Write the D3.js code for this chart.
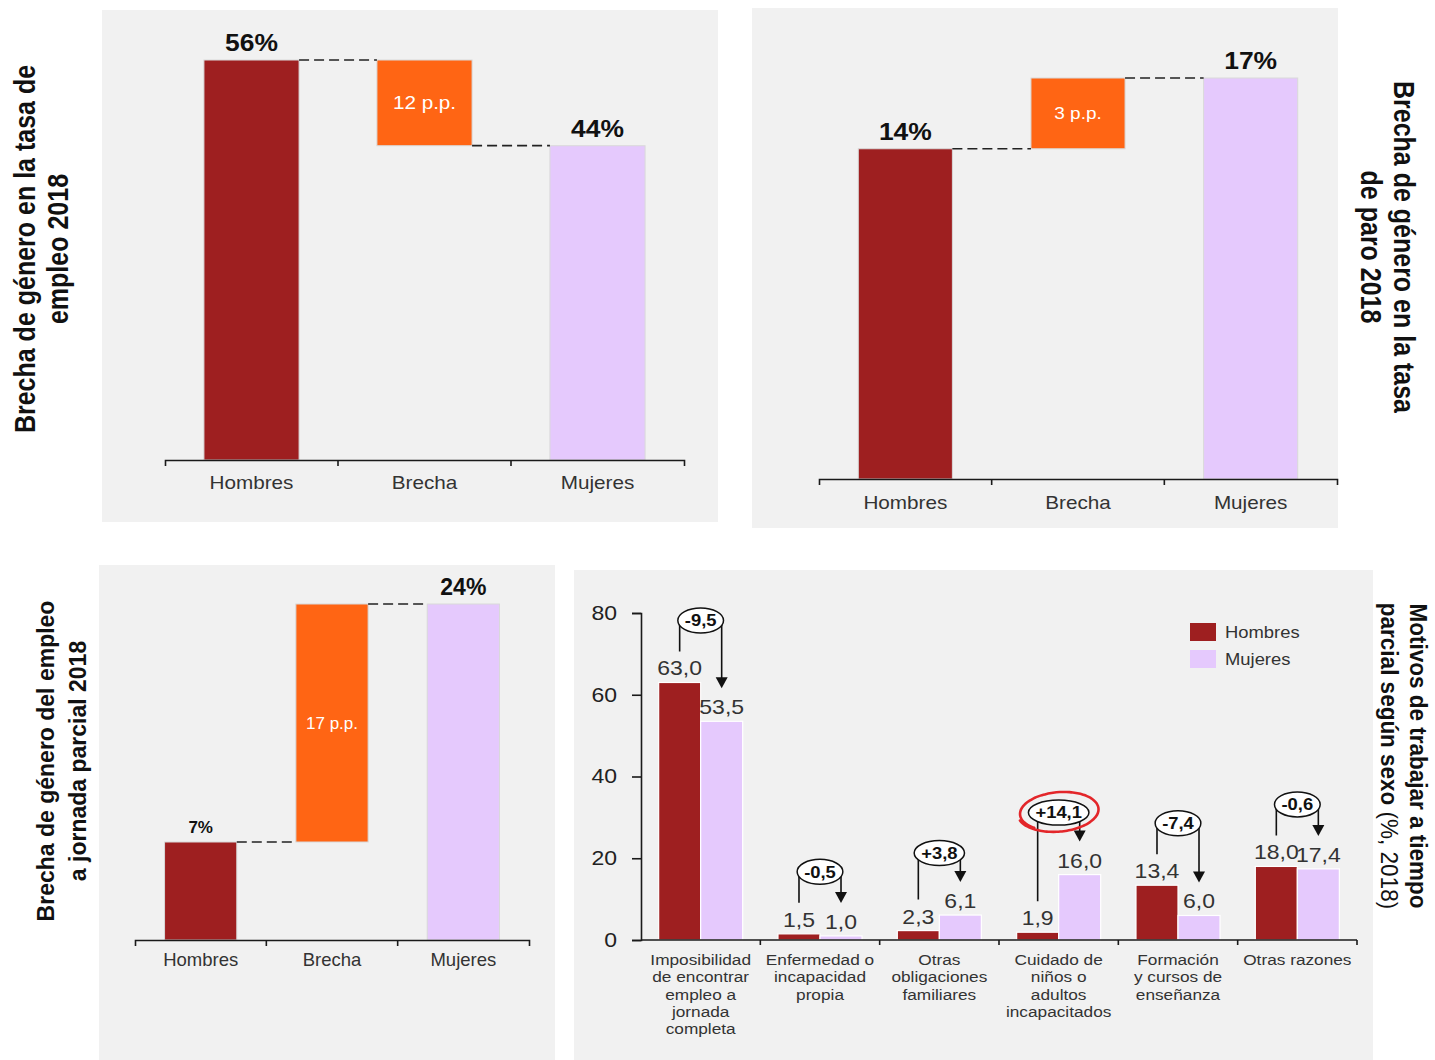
<!DOCTYPE html>
<html>
<head>
<meta charset="utf-8">
<script src="https://cdn.jsdelivr.net/npm/d3@7"></script>
<style>
  html, body { margin: 0; background: #fff; }
  svg { display: block; }
  text { font-family: "Liberation Sans", Arial, sans-serif; }
</style>
</head>
<body>
<svg id="chart" width="1435" height="1060"></svg>
<script>
// ---------- Data ----------
const waterfallCategories = ["Hombres", "Brecha", "Mujeres"];
const empleoRates  = [56, 44];   // tasa de empleo 2018 (%): hombres, mujeres
const paroRates    = [14, 17];   // tasa de paro 2018 (%)
const parcialRates = [7, 24];    // empleo a jornada parcial 2018 (%)

const motivosCategories = [
  "Imposibilidad de encontrar empleo a jornada completa",
  "Enfermedad o incapacidad propia",
  "Otras obligaciones familiares",
  "Cuidado de niños o adultos incapacitados",
  "Formación y cursos de enseñanza",
  "Otras razones"
];
const motivosLabelLines = [
  ["Imposibilidad", "de encontrar", "empleo a", "jornada", "completa"],
  ["Enfermedad o", "incapacidad", "propia"],
  ["Otras", "obligaciones", "familiares"],
  ["Cuidado de", "niños o", "adultos", "incapacitados"],
  ["Formación", "y cursos de", "enseñanza"],
  ["Otras razones"]
];
const motivosHombres = [63.0, 1.5, 2.3, 1.9, 13.4, 18.0];
const motivosMujeres = [53.5, 1.0, 6.1, 16.0, 6.0, 17.4];
const motivosSeries  = ["Hombres", "Mujeres"];
const motivosTicks   = [0, 20, 40, 60, 80];
const highlightedMotivo = "Cuidado de niños o adultos incapacitados";

// ---------- Styles ----------
const COLORS = {
  Hombres: "#9E1F20",
  Mujeres: "#E5C9FD",
  Brecha:  "#FF6514",
  panel:   "#F1F1F1",
  ink:     "#1a1a1a",
  text:    "#333333",
  red:     "#E3262A"
};
const WIDE = 1.15; // horizontal glyph stretch used in the wide panels

const svg = d3.select("#chart");

function addText(g, x, y, str, o = {}) {
  const sx = o.sx ?? 1;
  const t = g.append("text")
    .attr("transform", `translate(${x},${y}) scale(${sx},1)`)
    .attr("text-anchor", o.anchor || "middle")
    .attr("font-size", o.size || 16)
    .attr("font-weight", o.weight || "normal")
    .attr("fill", o.fill || COLORS.text)
    .text(str);
  if (o.dy) t.attr("dy", o.dy);
  return t;
}

function addTitle(g, lines, cy, o) {
  lines.forEach(line => {
    const t = g.append("text")
      .attr("transform", `translate(${line.x},${cy}) rotate(${o.rotate}) scale(1,${o.sy || 1})`)
      .attr("text-anchor", "middle")
      .attr("dy", "0.36em")
      .attr("font-size", o.size)
      .attr("fill", "#111");
    line.parts.forEach(p => {
      t.append("tspan").attr("font-weight", p.bold ? "bold" : "normal").text(p.text);
    });
  });
}

// ---------- Waterfall panels ----------
function waterfall(cfg) {
  const [h, m] = cfg.values;
  const g = svg.append("g");
  g.append("rect")
    .attr("x", cfg.box[0]).attr("y", cfg.box[1])
    .attr("width", cfg.box[2]).attr("height", cfg.box[3])
    .attr("fill", COLORS.panel);

  const x = d3.scaleBand().domain(waterfallCategories).range(cfg.range)
    .paddingInner(cfg.pad).paddingOuter(cfg.pad / 2);
  const y = d3.scaleLinear().domain([0, Math.max(h, m)]).range([cfg.axisY, cfg.topY]);
  const bw = x.bandwidth();

  const bars = [
    { cat: "Hombres", v0: 0, v1: h },
    { cat: "Brecha",  v0: Math.min(h, m), v1: Math.max(h, m) },
    { cat: "Mujeres", v0: 0, v1: m }
  ];
  g.selectAll("rect.bar").data(bars).join("rect")
    .attr("class", "bar")
    .attr("x", d => x(d.cat)).attr("width", bw)
    .attr("y", d => y(d.v1)).attr("height", d => y(d.v0) - y(d.v1))
    .attr("fill", d => COLORS[d.cat])
    .attr("stroke", "#d9d9d9").attr("stroke-width", 1);

  const connectors = [
    { x1: x("Hombres") + bw, x2: x("Brecha"),  v: h },
    { x1: x("Brecha") + bw,  x2: x("Mujeres"), v: m }
  ];
  g.selectAll("line.conn").data(connectors).join("line")
    .attr("class", "conn")
    .attr("x1", d => d.x1).attr("x2", d => d.x2)
    .attr("y1", d => y(d.v)).attr("y2", d => y(d.v))
    .attr("stroke", "#222").attr("stroke-width", 1.7)
    .attr("stroke-dasharray", "10,5");

  addText(g, x("Hombres") + bw / 2, y(h) - 9, `${h}%`,
    { size: cfg.valueSizes[0], weight: "bold", fill: "#111", sx: cfg.sx });
  addText(g, x("Mujeres") + bw / 2, y(m) - 9, `${m}%`,
    { size: cfg.valueSizes[1], weight: "bold", fill: "#111", sx: cfg.sx });
  addText(g, x("Brecha") + bw / 2, (y(h) + y(m)) / 2, `${Math.abs(m - h)} p.p.`,
    { size: cfg.gapSize, fill: "#fff", sx: cfg.sx, dy: "0.36em" });

  const axis = g.append("g")
    .attr("transform", `translate(0,${cfg.axisY})`)
    .call(d3.axisBottom(x).tickSizeInner(0).tickSizeOuter(6).tickPadding(cfg.labelPad))
    .attr("font-size", null).attr("font-family", null);
  axis.select(".domain").attr("stroke", COLORS.ink).attr("stroke-width", 1.6);
  axis.selectAll(".tick text")
    .attr("font-size", cfg.catSize).attr("fill", COLORS.text)
    .each(function () {
      const t = d3.select(this);
      const yy = +t.attr("y");
      t.attr("y", 0).attr("transform", `translate(0,${yy}) scale(${cfg.sx},1)`);
    });
  // boundary ticks between categories
  axis.selectAll("line.sep").data(waterfallCategories.slice(1)).join("line")
    .attr("class", "sep")
    .attr("x1", d => x(d) - x.step() * x.paddingInner() / 2)
    .attr("x2", d => x(d) - x.step() * x.paddingInner() / 2)
    .attr("y1", 0).attr("y2", 6)
    .attr("stroke", COLORS.ink).attr("stroke-width", 1.6);

  addTitle(g, cfg.title, cfg.titleY, { rotate: cfg.titleRotate, size: cfg.titleSize, sy: cfg.sx });
}

waterfall({
  values: empleoRates,
  box: [102, 10, 616, 512], range: [165, 684], axisY: 460, topY: 60, pad: 0.45,
  sx: WIDE, valueSizes: [23, 23], gapSize: 18, catSize: 18, labelPad: 16,
  title: [
    { x: 25, parts: [{ text: "Brecha de género en la tasa de", bold: true }] },
    { x: 58, parts: [{ text: "empleo 2018", bold: true }] }
  ],
  titleY: 249, titleRotate: -90, titleSize: 25
});

waterfall({
  values: paroRates,
  box: [752, 8, 586, 520], range: [819, 1337], axisY: 479, topY: 78, pad: 0.455,
  sx: WIDE, valueSizes: [23, 23], gapSize: 16.5, catSize: 18, labelPad: 17,
  title: [
    { x: 1404, parts: [{ text: "Brecha de género en la tasa", bold: true }] },
    { x: 1371, parts: [{ text: "de paro 2018", bold: true }] }
  ],
  titleY: 247, titleRotate: 90, titleSize: 25
});

waterfall({
  values: parcialRates,
  box: [99, 565, 456, 495], range: [135, 529], axisY: 940, topY: 604, pad: 0.45,
  sx: 1, valueSizes: [17, 23], gapSize: 17, catSize: 18.5, labelPad: 13,
  title: [
    { x: 46, parts: [{ text: "Brecha de género del empleo", bold: true }] },
    { x: 78, parts: [{ text: "a jornada parcial 2018", bold: true }] }
  ],
  titleY: 761, titleRotate: -90, titleSize: 23
});

// ---------- Motivos de trabajar a tiempo parcial ----------
(function () {
  const g = svg.append("g");
  g.append("rect").attr("x", 574).attr("y", 570).attr("width", 799).attr("height", 490)
    .attr("fill", COLORS.panel);

  const x0 = d3.scaleBand().domain(motivosCategories).range([641, 1357]);
  const x1 = d3.scaleBand().domain(motivosSeries).range([0, x0.bandwidth()]).paddingOuter(0.42);
  const y = d3.scaleLinear().domain([0, 80]).range([940, 613]);
  const fmt = v => d3.format(".1f")(v).replace(".", ",").replace("\u2212", "-");

  const rows = motivosCategories.map((c, i) => ({
    cat: c, lines: motivosLabelLines[i],
    vals: { Hombres: motivosHombres[i], Mujeres: motivosMujeres[i] }
  }));

  // bars
  const groups = g.selectAll("g.grp").data(rows).join("g")
    .attr("class", "grp")
    .attr("transform", d => `translate(${x0(d.cat)},0)`);
  groups.selectAll("rect").data(d => motivosSeries.map(s => ({ s, v: d.vals[s] }))).join("rect")
    .attr("x", d => x1(d.s)).attr("width", x1.bandwidth())
    .attr("y", d => y(d.v)).attr("height", d => y(0) - y(d.v))
    .attr("fill", d => COLORS[d.s])
    .attr("stroke", "#fff").attr("stroke-width", 1.2);

  // value labels
  rows.forEach(r => {
    motivosSeries.forEach(s => {
      addText(g, x0(r.cat) + x1(s) + x1.bandwidth() / 2, y(r.vals[s]) - 7, fmt(r.vals[s]),
        { size: 20, fill: COLORS.text, sx: WIDE });
    });
  });

  // axes
  const yAxis = g.append("g").attr("transform", "translate(641,0)")
    .call(d3.axisLeft(y).tickValues(motivosTicks).tickSize(9).tickPadding(15).tickFormat(d3.format("d")))
    .attr("font-size", null).attr("font-family", null);
  yAxis.select(".domain").attr("stroke", COLORS.ink).attr("stroke-width", 1.6);
  yAxis.selectAll(".tick line").attr("stroke", COLORS.ink).attr("stroke-width", 1.6);
  yAxis.selectAll(".tick text")
    .attr("font-size", 20).attr("fill", "#222")
    .each(function () {
      const t = d3.select(this);
      const xx = +t.attr("x");
      t.attr("x", 0).attr("transform", `translate(${xx},0) scale(${WIDE},1)`);
    });

  const xAxis = g.append("g").attr("transform", `translate(0,${y(0)})`);
  xAxis.append("line").attr("x1", x0.range()[0]).attr("x2", x0.range()[1])
    .attr("stroke", COLORS.ink).attr("stroke-width", 1.6);
  xAxis.selectAll("line.sep").data(motivosCategories.slice(1).map(c => x0(c)).concat([x0.range()[1]]))
    .join("line").attr("class", "sep")
    .attr("x1", d => d).attr("x2", d => d).attr("y1", 0).attr("y2", 5)
    .attr("stroke", COLORS.ink).attr("stroke-width", 1.6);

  // category labels
  rows.forEach(r => {
    r.lines.forEach((line, k) => {
      addText(g, x0(r.cat) + x0.bandwidth() / 2, y(0) + 25 + k * 17.3, line,
        { size: 15, fill: COLORS.text, sx: WIDE });
    });
  });

  // change annotations: bracket from Hombres to Mujeres with the difference
  rows.forEach(r => {
    const h = r.vals.Hombres, m = r.vals.Mujeres;
    const diff = Math.round((m - h) * 10) / 10;
    const xH = x0(r.cat) + x1("Hombres") + x1.bandwidth() / 2;
    const xM = x0(r.cat) + x1("Mujeres") + x1.bandwidth() / 2;
    const yH = y(h), yM = y(m);
    const top = Math.min(yH, yM) - 62;
    const tip = yM - 33;
    const a = g.append("g");
    a.append("path")
      .attr("d", `M${xH},${yH - 31}V${top}M${xM},${top}V${tip - 10}`)
      .attr("fill", "none").attr("stroke", "#111").attr("stroke-width", 1.6);
    a.append("path")
      .attr("d", `M${xM - 6},${tip - 11}L${xM + 6},${tip - 11}L${xM},${tip}Z`)
      .attr("fill", "#111");
    const cx = (xH + xM) / 2;
    const label = (diff > 0 ? "+" : "") + fmt(diff);
    const ell = a.append("ellipse").attr("cx", cx).attr("cy", top).attr("ry", 12.5)
      .attr("fill", "#fff").attr("stroke", "#111").attr("stroke-width", 1.5);
    const t = addText(a, cx, top, label, { size: 16, weight: "bold", fill: "#111", sx: WIDE, dy: "0.36em" });
    const rx = t.node().getComputedTextLength() * WIDE / 2 + 7;
    ell.attr("rx", rx);

    if (r.cat === highlightedMotivo) {
      const Rx = rx + 8, Ry = 19;
      const pts = d3.range(0, 1.0001, 1 / 80).map(f => {
        const th = Math.PI * 0.72 + f * (2 * Math.PI + 0.55);
        const grow = 1 + 0.07 * f;
        return [cx + Rx * grow * Math.cos(th), top - 1 + Ry * grow * Math.sin(th) - 2.5 * Math.cos(th)];
      });
      a.append("path")
        .attr("d", d3.line().curve(d3.curveCatmullRom)(pts))
        .attr("fill", "none").attr("stroke", COLORS.red).attr("stroke-width", 2.6)
        .attr("stroke-linecap", "round");
    }
  });

  // legend
  const legend = g.append("g");
  motivosSeries.forEach((s, i) => {
    legend.append("rect").attr("x", 1190).attr("y", 623 + i * 27).attr("width", 26).attr("height", 18)
      .attr("fill", COLORS[s]);
    addText(legend, 1225, 632 + i * 27, s, { size: 16, fill: COLORS.text, sx: WIDE, anchor: "start", dy: "0.36em" });
  });

  addTitle(g, [
    { x: 1419, parts: [{ text: "Motivos de trabajar a tiempo", bold: true }] },
    { x: 1390, parts: [{ text: "parcial según sexo ", bold: true }, { text: "(%, 2018)", bold: false }] }
  ], 756, { rotate: 90, size: 22.5, sy: 1.08 });
})();
</script>
</body>
</html>
